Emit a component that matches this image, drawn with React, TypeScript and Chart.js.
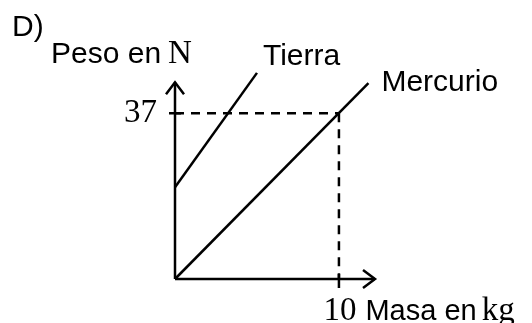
import React, { useEffect, useRef } from "react";
import { Chart, registerables } from "chart.js";

Chart.register(...registerables);

// Data (masa en kg, peso en N)
const mercurioMasa = [0, 11.8];
const mercurioPeso = [0, 43.7];
const tierraMasa = [0, 5.0];
const tierraPeso = [20.5, 46.0];
const refMasa = 10;
const refPeso = 37;
const xAxisEnd = 12.2;
const yAxisEnd = 43.9;
const xTickLabels = ["10"];
const yTickLabels = ["37"];

const INK = "#000000";
const SANS = "'Liberation Sans', Arial, sans-serif";
const SERIF = "'Liberation Serif', 'Times New Roman', serif";

const toPts = (xs: number[], ys: number[]) => xs.map((x, i) => ({ x, y: ys[i] }));

const decorPlugin = {
  id: "decor",
  afterDatasetsDraw(chart: any) {
    const ctx = chart.ctx;
    const xs = chart.scales.x;
    const ys = chart.scales.y;
    const x0 = xs.getPixelForValue(0);
    const y0 = ys.getPixelForValue(0);
    const xEnd = xs.getPixelForValue(xAxisEnd);
    const yEnd = ys.getPixelForValue(yAxisEnd);
    const xRef = xs.getPixelForValue(refMasa);
    const yRef = ys.getPixelForValue(refPeso);

    ctx.save();
    ctx.strokeStyle = INK;
    ctx.lineWidth = 2.5;
    ctx.lineCap = "butt";
    ctx.lineJoin = "miter";
    // arrowheads
    ctx.beginPath();
    ctx.moveTo(xEnd - 12, y0 - 9);
    ctx.lineTo(xEnd, y0);
    ctx.lineTo(xEnd - 12, y0 + 9);
    ctx.stroke();
    ctx.beginPath();
    ctx.moveTo(x0 - 9, yEnd + 12);
    ctx.lineTo(x0, yEnd);
    ctx.lineTo(x0 + 9, yEnd + 12);
    ctx.stroke();
    // ticks
    ctx.beginPath();
    ctx.moveTo(x0 - 6, yRef);
    ctx.lineTo(x0 + 6, yRef);
    ctx.moveTo(xRef, y0 - 5);
    ctx.lineTo(xRef, y0 + 9);
    ctx.stroke();

    // texts
    ctx.fillStyle = INK;
    ctx.textBaseline = "alphabetic";
    ctx.textAlign = "left";
    // D)
    ctx.font = `30px ${SANS}`;
    ctx.fillText("D)", 12, 36);
    // Peso en N
    ctx.font = `30px ${SANS}`;
    const pesoTxt = "Peso en";
    const px = x0 - 124;
    const py = yEnd - 19;
    ctx.fillText(pesoTxt, px, py);
    const pw = ctx.measureText(pesoTxt).width;
    ctx.font = `33px ${SERIF}`;
    ctx.fillText("N", px + pw + 7, py);
    // 37
    ctx.font = `33px ${SERIF}`;
    ctx.textAlign = "right";
    ctx.fillText(yTickLabels[0], x0 - 18, yRef + 9);
    // 10 Masa en kg
    ctx.textAlign = "left";
    const tenW = ctx.measureText(xTickLabels[0]).width;
    const mx = xRef - tenW / 2 + 1;
    const my = y0 + 41;
    ctx.fillText(xTickLabels[0], mx, my);
    ctx.font = `29px ${SANS}`;
    const masaTxt = "Masa en";
    const mx2 = mx + tenW + 9;
    ctx.fillText(masaTxt, mx2, my);
    const mw = ctx.measureText(masaTxt).width;
    ctx.font = `33px ${SERIF}`;
    ctx.fillText("kg", mx2 + mw + 5, my);
    // series labels
    ctx.font = `30px ${SANS}`;
    const tX = xs.getPixelForValue(tierraMasa[1]);
    const tY = ys.getPixelForValue(tierraPeso[1]);
    ctx.fillText("Tierra", tX + 6, tY - 8);
    const mX = xs.getPixelForValue(mercurioMasa[1]);
    const mY = ys.getPixelForValue(mercurioPeso[1]);
    ctx.fillText("Mercurio", mX + 13, mY + 8);
    ctx.restore();
  },
};

export default function App() {
  const ref = useRef<HTMLCanvasElement | null>(null);
  useEffect(() => {
    if (!ref.current) return;
    const lineDs = (data: any[], dash: number[] = []) => ({
      data,
      showLine: true,
      borderColor: INK,
      backgroundColor: INK,
      borderWidth: 2.5,
      borderDash: dash,
      pointRadius: 0,
      fill: false,
      tension: 0,
      clip: false as any,
    });
    const chart = new Chart(ref.current, {
      type: "scatter",
      data: {
        datasets: [
          lineDs(toPts([0, xAxisEnd], [0, 0])),
          lineDs(toPts([0, 0], [0, yAxisEnd])),
          lineDs(toPts([0, refMasa], [refPeso, refPeso]), [9, 7]),
          lineDs(toPts([refMasa, refMasa], [refPeso, 0]), [9, 7]),
          lineDs(toPts(tierraMasa, tierraPeso)),
          lineDs(toPts(mercurioMasa, mercurioPeso)),
        ],
      },
      options: {
        responsive: false,
        animation: false,
        layout: { padding: { left: 175, right: 157, top: 72, bottom: 44 } },
        plugins: { legend: { display: false }, tooltip: { enabled: false } },
        scales: {
          x: { type: "linear", min: 0, max: xAxisEnd, display: false },
          y: { type: "linear", min: 0, max: 46.2, display: false },
        },
      },
      plugins: [decorPlugin],
    });
    return () => chart.destroy();
  }, []);
  return (
    <div style={{ position: "absolute", left: 0, top: 0, width: 532, height: 323, background: "#fff" }}>
      <canvas ref={ref} width={532} height={323} style={{ display: "block" }} />
    </div>
  );
}
